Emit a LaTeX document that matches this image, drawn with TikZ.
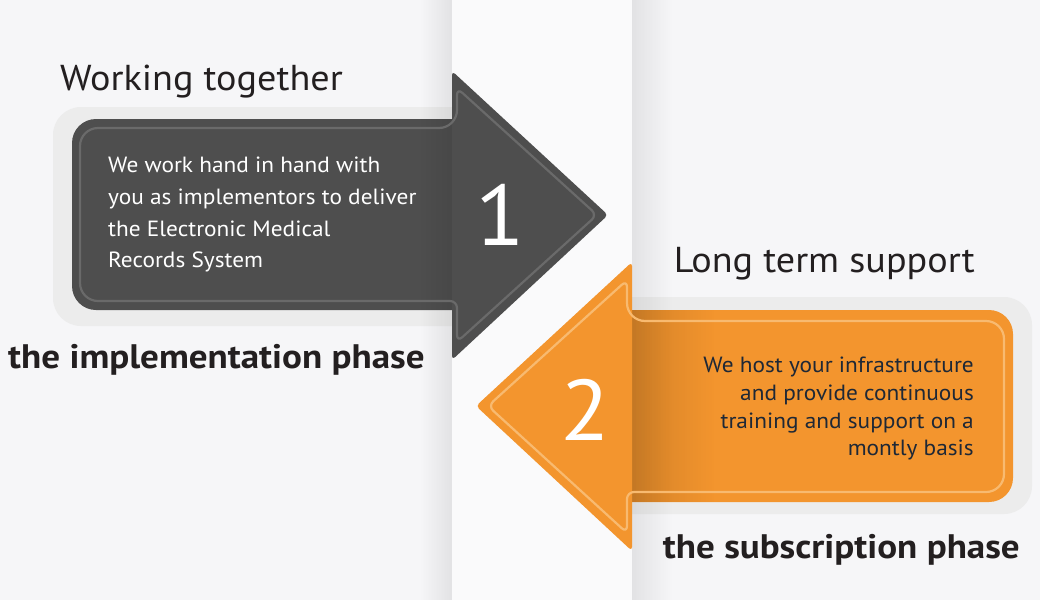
\documentclass[tikz,border=0pt]{standalone}
\usepackage{fontspec}
\setmainfont{PT Sans}[FakeStretch=1.06]
\newfontfamily\phasefont{PT Sans}[FakeStretch=1.09]
\usetikzlibrary{fadings}

\definecolor{bgcol}{HTML}{F6F6F8}
\definecolor{stripcol}{HTML}{FAFAFB}
\definecolor{framecol}{HTML}{ECECEC}
\definecolor{darkcol}{HTML}{4E4E4E}
\definecolor{darkline}{HTML}{6A6A6A}
\definecolor{orangecol}{HTML}{F3952E}
\definecolor{orangeline}{HTML}{F8BA70}
\definecolor{headtext}{HTML}{231F20}
\definecolor{navytext}{HTML}{1E2836}

\tikzfading[name=fadetoleft, left color=transparent!100, right color=transparent!0]
\tikzfading[name=fadetoright, left color=transparent!0, right color=transparent!100]

\begin{document}
\begin{tikzpicture}[
        x = 1pt, y = -1pt,
        line join=round,
        framestyle/.style = {fill=framecol, rounded corners=28},
        darkbody/.style = {fill=darkcol},
        orangebody/.style = {fill=orangecol},
        innerdark/.style = {draw=darkline, line width=2.2pt},
        innerorange/.style = {draw=orangeline, line width=2.2pt},
        title/.style = {font=\fontsize{36}{40}\selectfont, text=headtext, inner sep=0},
        phase/.style = {font=\fontsize{34}{38}\phasefont\bfseries, text=headtext, inner sep=0},
        bignum/.style = {font=\fontsize{86}{90}\selectfont, text=white, inner sep=0}
    ]
        % background and margins
        \fill[bgcol] (0,0) rectangle (1040,600);
        \useasboundingbox (0,0) rectangle (1040,600);

        % frames
        \fill[framestyle] (53,107) rectangle (480,326);
        \fill[framestyle] (600,297) rectangle (1032,514);

        % bodies
        \fill[darkbody, rounded corners=24] (72,119) rectangle (480,310);
        \fill[orangebody, rounded corners=24] (600,310) rectangle (1013,502);

        % shadows next to the strip
        \fill[black, fill opacity=0.08, path fading=fadetoleft] (420,0) rectangle (452,600);
        \fill[black, fill opacity=0.08, path fading=fadetoright] (632,0) rectangle (672,600);
        \fill[black, fill opacity=0.12, path fading=fadetoright] (632,310) rectangle (715,502);

        % middle strip
        \fill[stripcol] (452,0) rectangle (632,600);

        % arrow heads
        \coordinate (h1top) at (452,71);
        \coordinate (h1tip) at (608,215);
        \coordinate (h1bot) at (452,360);
        \coordinate (h2top) at (632,262);
        \coordinate (h2tip) at (476,406);
        \coordinate (h2bot) at (632,551);

        \fill[darkbody, rounded corners=4] (h1top) -- (h1tip) -- (h1bot) -- cycle;
        \fill[orangebody, rounded corners=4] (h2top) -- (h2tip) -- (h2bot) -- cycle;

        % inner outlines
        \draw[innerdark, rounded corners=7] (457,128) -- (457,88) -- (597,215) -- (457,342) -- (457,301)
            [rounded corners=18] -- (80,301) -- (80,128) -- cycle;
        \draw[innerorange, rounded corners=7] (627,321) -- (627,280) -- (488,406) -- (627,533) -- (627,492)
            [rounded corners=18] -- (1004,492) -- (1004,321) -- cycle;

        % texts
        \node[title, anchor=base west] (worktitle) at (60,90) {Working together};
        \node[phase, anchor=base west] (implphase) at (8,368) {the implementation phase};
        \node[font=\fontsize{22}{31.7}\selectfont, text=white, align=left, inner sep=0, anchor=north west]
            (worktext) at (108,157) {We work hand in hand with\\you as implementors to deliver\\the Electronic Medical\\Records System};
        \node[bignum] (num1) at (500,215) {1};

        \node[title, anchor=base east] (supptitle) at (975,272) {Long term support};
        \node[phase, anchor=base east] (subphase) at (1020,558) {the subscription phase};
        \node[font=\fontsize{22}{27.7}\selectfont, text=navytext, align=right, inner sep=0, anchor=north east]
            (supptext) at (974,357) {We host your infrastructure\\and provide continuous\\training and support on a\\montly basis};
        \node[bignum] (num2) at (585,410) {2};

    \end{tikzpicture}
\end{document}
